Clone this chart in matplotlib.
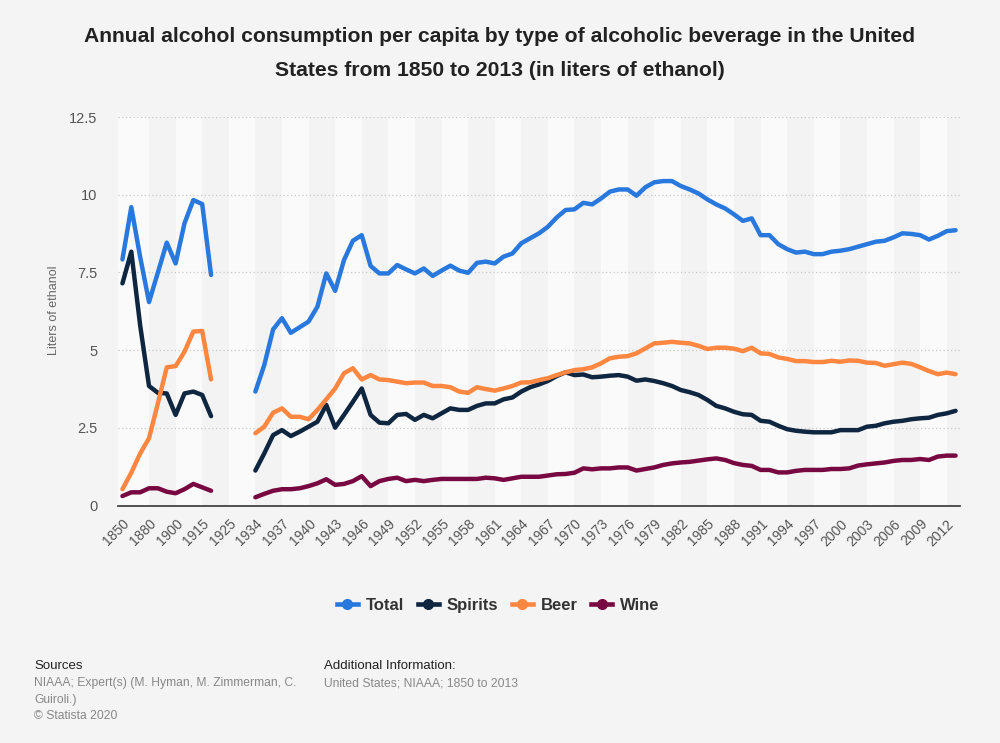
#!/usr/bin/env python3
"""Consumo anual de alcohol per cápita por tipo de bebida en EE.UU., 1850-2013."""
import numpy as np
import matplotlib.pyplot as plt
from matplotlib.lines import Line2D

nan = np.nan

# categorías (las primeras 15 no son anuales)
early_years = ['1850', '1860', '1870', '1880', '1885', '1890', '1900', '1905',
               '1910', '1915', '1919', '1920', '1925', '1930', '1933']
years = early_years + [str(y) for y in range(1934, 2014)]

total_early = [7.92, 9.6, 8.0, 6.55, 7.5, 8.46, 7.79, 9.08, 9.83, 9.7, 7.42,
               nan, nan, nan, nan]
total_late = [3.67, 4.52, 5.67, 6.03, 5.56, 5.74, 5.92, 6.4, 7.47, 6.91,
              7.9, 8.52, 8.7, 7.71, 7.47, 7.47, 7.74, 7.6, 7.47, 7.63,
              7.39, 7.56, 7.72, 7.56, 7.49, 7.81, 7.85, 7.79, 8.01, 8.11,
              8.44, 8.6, 8.76, 8.97, 9.27, 9.51, 9.53, 9.74, 9.69, 9.88,
              10.1, 10.17, 10.17, 9.97, 10.24, 10.4, 10.44, 10.44, 10.28, 10.17,
              10.04, 9.85, 9.69, 9.56, 9.37, 9.16, 9.24, 8.7, 8.7, 8.41,
              8.25, 8.14, 8.17, 8.09, 8.09, 8.17, 8.2, 8.25, 8.33, 8.41,
              8.49, 8.52, 8.63, 8.76, 8.74, 8.7, 8.56, 8.68, 8.83, 8.86]

spirits_early = [7.15, 8.17, 5.8, 3.85, 3.63, 3.61, 2.92, 3.61, 3.67, 3.56, 2.88,
                 nan, nan, nan, nan]
spirits_late = [1.13, 1.68, 2.27, 2.43, 2.24, 2.38, 2.54, 2.7, 3.24, 2.51,
                2.92, 3.34, 3.77, 2.92, 2.67, 2.65, 2.92, 2.95, 2.76, 2.92,
                2.81, 2.97, 3.13, 3.08, 3.08, 3.21, 3.29, 3.29, 3.42, 3.48,
                3.67, 3.81, 3.9, 4.01, 4.17, 4.29, 4.2, 4.22, 4.13, 4.15,
                4.18, 4.2, 4.15, 4.02, 4.06, 4.01, 3.94, 3.85, 3.72, 3.65,
                3.56, 3.4, 3.21, 3.13, 3.02, 2.94, 2.92, 2.73, 2.7, 2.57,
                2.46, 2.41, 2.38, 2.36, 2.36, 2.36, 2.43, 2.43, 2.43, 2.54,
                2.57, 2.65, 2.7, 2.73, 2.78, 2.81, 2.83, 2.92, 2.97, 3.05]

beer_early = [0.53, 1.06, 1.68, 2.17, 3.29, 4.45, 4.49, 4.95, 5.6, 5.62, 4.06,
              nan, nan, nan, nan]
beer_late = [2.33, 2.54, 2.99, 3.13, 2.86, 2.86, 2.78, 3.08, 3.42, 3.77,
             4.26, 4.42, 4.06, 4.2, 4.06, 4.04, 3.99, 3.94, 3.96, 3.96,
             3.85, 3.85, 3.81, 3.67, 3.63, 3.81, 3.75, 3.7, 3.77, 3.85,
             3.96, 3.97, 4.04, 4.1, 4.2, 4.29, 4.36, 4.39, 4.45, 4.58,
             4.74, 4.79, 4.81, 4.9, 5.06, 5.22, 5.24, 5.27, 5.24, 5.22,
             5.14, 5.04, 5.08, 5.08, 5.05, 4.97, 5.08, 4.9, 4.88, 4.77,
             4.72, 4.65, 4.65, 4.62, 4.62, 4.66, 4.63, 4.67, 4.66, 4.6,
             4.59, 4.5, 4.55, 4.6, 4.56, 4.45, 4.33, 4.23, 4.28, 4.23]

wine_early = [0.31, 0.43, 0.43, 0.56, 0.56, 0.45, 0.4, 0.53, 0.7, 0.59, 0.48,
              nan, nan, nan, nan]
wine_late = [0.27, 0.38, 0.48, 0.53, 0.53, 0.56, 0.63, 0.72, 0.85, 0.67,
             0.7, 0.79, 0.95, 0.63, 0.79, 0.86, 0.9, 0.79, 0.83, 0.79,
             0.83, 0.86, 0.86, 0.86, 0.86, 0.86, 0.9, 0.88, 0.83, 0.88,
             0.93, 0.93, 0.93, 0.97, 1.01, 1.02, 1.06, 1.2, 1.17, 1.2,
             1.2, 1.23, 1.23, 1.13, 1.18, 1.23, 1.31, 1.36, 1.39, 1.41,
             1.45, 1.49, 1.52, 1.47, 1.37, 1.31, 1.28, 1.15, 1.15, 1.07,
             1.07, 1.12, 1.15, 1.15, 1.15, 1.18, 1.18, 1.2, 1.29, 1.33,
             1.36, 1.39, 1.44, 1.47, 1.47, 1.5, 1.47, 1.58, 1.61, 1.61]

series_names = ['Total', 'Spirits', 'Beer', 'Wine']
colors = ['#2878dd', '#0f2640', '#fd8740', '#780841']

BG = '#f4f4f4'


def main() -> None:
    series = [total_early + total_late, spirits_early + spirits_late,
              beer_early + beer_late, wine_early + wine_late]
    x = np.arange(len(years))
    last = len(years) - 0.5

    fig = plt.figure(figsize=(10, 7.43), dpi=100, facecolor=BG)
    ax = fig.add_axes([0.118, 0.3194, 0.842, 0.5231])
    ax.set_facecolor('#fafafa')

    # bandas alternas entre marcas (cada 3 categorías)
    for start in range(3, len(years), 6):
        ax.axvspan(start, min(start + 3, last), color='#f3f3f3', lw=0, zorder=0)

    for vals, name, col in zip(series, series_names, colors):
        ax.plot(x, vals, color=col, lw=3.2, label=name, solid_joinstyle='round',
                solid_capstyle='round', zorder=3)

    ax.set_xlim(-0.5, last)
    ax.set_ylim(0, 12.5)
    ax.set_yticks([0, 2.5, 5, 7.5, 10, 12.5])
    ax.set_yticklabels(['0', '2.5', '5', '7.5', '10', '12.5'])
    ax.yaxis.grid(True, color='#c8c8c8', linestyle=(0, (1, 2)), lw=0.9)
    ax.set_axisbelow(True)

    ticks = x[::3]
    ax.set_xticks(ticks)
    ax.set_xticklabels([years[i] for i in ticks], rotation=45, ha='right',
                       rotation_mode='anchor')
    ax.tick_params(axis='x', length=0, pad=8, labelsize=10, labelcolor='#555555')
    ax.tick_params(axis='y', length=0, pad=15, labelsize=10.5, labelcolor='#555555')
    for side in ['top', 'right', 'left']:
        ax.spines[side].set_visible(False)
    ax.spines['bottom'].set_color('#444444')
    ax.spines['bottom'].set_linewidth(1.3)

    ax.set_ylabel('Liters of ethanol', color='#666666', fontsize=9)
    ax.yaxis.set_label_coords(-0.069, 0.503)

    fig.text(0.5, 0.951, 'Annual alcohol consumption per capita by type of alcoholic beverage in the United',
             ha='center', va='center', fontsize=15.2, fontweight='bold', color='#222222')
    fig.text(0.5, 0.905, 'States from 1850 to 2013 (in liters of ethanol)',
             ha='center', va='center', fontsize=15.2, fontweight='bold', color='#222222')

    handles = [Line2D([0], [0], color=c, lw=3.3, marker='o', markersize=7) for c in colors]
    leg = fig.legend(handles, series_names, loc='center', bbox_to_anchor=(0.4985, 0.1857),
                     ncol=4, frameon=False, handlelength=1.25, handletextpad=0.5,
                     columnspacing=0.8, prop={'weight': 'bold', 'size': 12})
    for t in leg.get_texts():
        t.set_color('#333333')

    # pie de página
    fig.text(0.034, 0.1036, 'Sources', fontsize=9.5, color='#222222', va='center')
    footer = ['NIAAA; Expert(s) (M. Hyman, M. Zimmerman, C.', 'Guiroli.)', '© Statista 2020']
    for i, line in enumerate(footer):
        fig.text(0.034, 0.0807 - i * 0.0222, line, fontsize=8.7, color='#888888', va='center')
    fig.text(0.324, 0.1036, 'Additional Information:', fontsize=9.5, color='#222222', va='center')
    fig.text(0.324, 0.0807, 'United States; NIAAA; 1850 to 2013', fontsize=8.7, color='#888888',
             va='center')

    fig.savefig('out.png', dpi=100, facecolor=BG)
    plt.close(fig)


if __name__ == '__main__':
    plt.rcParams['font.family'] = ['Liberation Sans', 'DejaVu Sans']
    main()
